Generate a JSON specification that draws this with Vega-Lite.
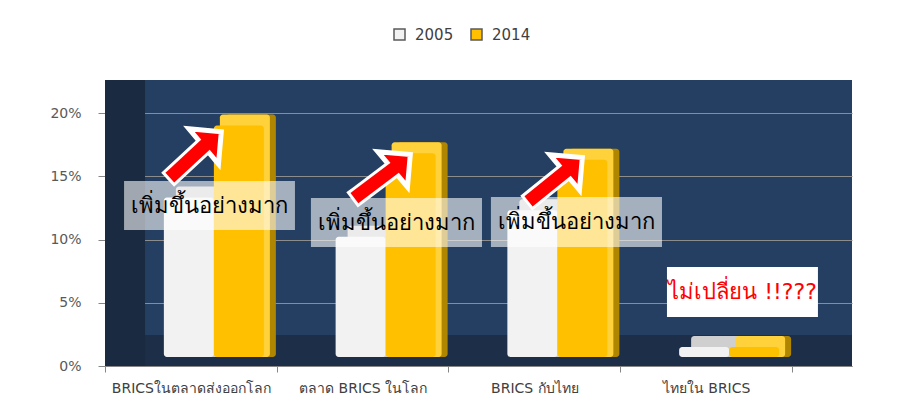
{
  "$schema": "https://vega.github.io/schema/vega-lite/v6.json",
  "width": 747,
  "height": 286,
  "autosize": {"type": "none"},
  "padding": {"left": 105, "top": 80, "right": 50, "bottom": 49},
  "background": "#FFFFFF",
  "config": {
    "font": "DejaVu Sans",
    "view": {"fill": "#243F62", "stroke": null},
    "axis": {"labelFont": "DejaVu Sans"}
  },
  "datasets": {
    "bars": [
      {"cat": "BRICSในตลาดส่งออกโลก", "year": "2005", "share": 0.126},
      {"cat": "BRICSในตลาดส่งออกโลก", "year": "2014", "share": 0.183},
      {"cat": "ตลาด BRICS ในโลก", "year": "2005", "share": 0.095},
      {"cat": "ตลาด BRICS ในโลก", "year": "2014", "share": 0.161},
      {"cat": "BRICS กับไทย", "year": "2005", "share": 0.116},
      {"cat": "BRICS กับไทย", "year": "2014", "share": 0.156},
      {"cat": "ไทยใน BRICS", "year": "2005", "share": 0.008},
      {"cat": "ไทยใน BRICS", "year": "2014", "share": 0.008}
    ],
    "gainNotes": [
      {"label": "เพิ่มขึ้นอย่างมาก", "x1": 0.111, "x2": 1.106, "top": 0.1462, "bottom": 0.1075, "xc": 0.608, "yc": 0.1264},
      {"label": "เพิ่มขึ้นอย่างมาก", "x1": 1.199, "x2": 2.195, "top": 0.1328, "bottom": 0.0941, "xc": 1.697, "yc": 0.1134},
      {"label": "เพิ่มขึ้นอย่างมาก", "x1": 2.247, "x2": 3.243, "top": 0.1336, "bottom": 0.0941, "xc": 2.745, "yc": 0.1138}
    ],
    "flatNote": [
      {"label": "ไม่เปลี่ยน !!???", "x1": 3.272, "x2": 4.151, "top": 0.0783, "bottom": 0.0387, "xc": 3.712, "yc": 0.0585}
    ],
    "arrows": [
      {"x0": 0.4052, "y0": 0.1524, "x1": 0.5764, "y1": 0.1739, "hx": 0.6259, "hy": 0.1794},
      {"x0": 1.4824, "y0": 0.1358, "x1": 1.6769, "y1": 0.1557, "hx": 1.7263, "hy": 0.1613},
      {"x0": 2.4955, "y0": 0.1334, "x1": 2.6783, "y1": 0.1534, "hx": 2.7278, "hy": 0.1589}
    ]
  },
  "resolve": {"scale": {"x": "independent"}, "axis": {"x": "independent"}},
  "layer": [
    {
      "data": {"values": [{}]},
      "layer": [
        {
          "mark": {"type": "rect", "color": "#1D2E48"},
          "encoding": {
            "x": {"datum": 0, "type": "quantitative", "scale": {"domain": [0, 4.3493], "nice": false, "zero": false}, "axis": null},
            "x2": {"datum": 4.3493},
            "y": {"datum": 0, "type": "quantitative", "scale": {"domain": [0, 0.2261], "nice": false},
              "axis": {"title": null, "values": [0, 0.05, 0.1, 0.15, 0.2], "format": ".0%", "tickSize": 7, "labelPadding": 17, "labelFontSize": 14, "labelColor": "#595959", "domainColor": "#868686", "tickColor": "#868686", "grid": true, "gridColor": "#8C8C8C", "gridWidth": 1}},
            "y2": {"datum": 0.0245}
          }
        },
        {
          "mark": {"type": "rect", "color": "#1A2A40"},
          "encoding": {
            "x": {"datum": 0, "type": "quantitative", "scale": {"domain": [0, 4.3493], "nice": false, "zero": false}, "axis": null},
            "x2": {"datum": 0.233},
            "y": {"datum": 0, "type": "quantitative", "scale": {"domain": [0, 0.2261], "nice": false},
              "axis": {"title": null, "values": [0, 0.05, 0.1, 0.15, 0.2], "format": ".0%", "tickSize": 7, "labelPadding": 17, "labelFontSize": 14, "labelColor": "#595959", "domainColor": "#868686", "tickColor": "#868686", "grid": true, "gridColor": "#8C8C8C", "gridWidth": 1}},
            "y2": {"datum": 0.2261}
          }
        }
      ]
    },
    {
      "data": {"name": "bars"},
      "encoding": {
        "x": {
          "field": "cat", "type": "nominal", "sort": null,
          "scale": {"paddingInner": 0, "paddingOuter": 0.1747, "align": 0},
          "axis": {"title": null, "labelAngle": 0, "tickBand": "extent", "grid": false, "domainColor": "#868686", "tickColor": "#868686", "tickSize": 6, "labelFontSize": 14, "labelColor": "#404040", "labelPadding": 9}
        },
        "y": {
          "field": "share", "type": "quantitative", "stack": null,
          "scale": {"domain": [0, 0.2261], "nice": false},
          "axis": {"title": null, "values": [0, 0.05, 0.1, 0.15, 0.2], "format": ".0%", "tickSize": 7, "labelPadding": 17, "labelFontSize": 14, "labelColor": "#595959", "domainColor": "#868686", "tickColor": "#868686", "grid": true, "gridColor": "#8C8C8C", "gridWidth": 1}
        },
        "y2": {"datum": 0}
      },
      "layer": [
        {
          "transform": [{"filter": "datum.year === '2005'"}],
          "mark": {"type": "bar", "width": 50, "color": "#CFCFCF", "xOffset": 10, "yOffset": -20, "y2Offset": -9, "cornerRadius": 3}
        },
        {
          "transform": [{"filter": "datum.year === '2005'"}],
          "mark": {"type": "bar", "width": 50, "xOffset": -2, "yOffset": -9, "y2Offset": -9, "cornerRadius": 3},
          "encoding": {
            "color": {"field": "year", "type": "nominal", "scale": {"domain": ["2005", "2014"], "range": ["#F2F2F2", "#FFC000"]},
              "legend": {"orient": "none", "legendX": 287, "legendY": -53, "direction": "horizontal", "title": null, "symbolType": "square", "symbolSize": 121, "labelFontSize": 15, "labelColor": "#404040", "symbolStrokeColor": "#595959", "symbolStrokeWidth": 1.5, "columnPadding": 14, "labelOffset": 8}}
          }
        },
        {
          "transform": [{"filter": "datum.year === '2014'"}],
          "mark": {"type": "bar", "width": 50, "color": "#B08500", "xOffset": 60, "yOffset": -20, "y2Offset": -9, "cornerRadius": 3}
        },
        {
          "transform": [{"filter": "datum.year === '2014'"}],
          "mark": {"type": "bar", "width": 50, "color": "#FFD13A", "xOffset": 54, "yOffset": -20, "y2Offset": -9, "cornerRadius": 3},
          "encoding": {"y2": {"field": "share"}}
        },
        {
          "transform": [{"filter": "datum.year === '2014'"}],
          "mark": {"type": "bar", "width": 50, "xOffset": 48, "yOffset": -9, "y2Offset": -9, "cornerRadius": 3},
          "encoding": {
            "color": {"field": "year", "type": "nominal", "scale": {"domain": ["2005", "2014"], "range": ["#F2F2F2", "#FFC000"]}}
          }
        }
      ]
    },
    {
      "layer": [
        {
          "data": {"name": "gainNotes"},
          "mark": {"type": "rect", "fill": "#FFFFFF", "fillOpacity": 0.59},
          "encoding": {
            "x": {"field": "x1", "type": "quantitative", "scale": {"domain": [0, 4.3493], "nice": false, "zero": false}, "axis": null},
            "x2": {"field": "x2"},
            "y": {"field": "top", "type": "quantitative", "scale": {"domain": [0, 0.2261], "nice": false},
              "axis": {"title": null, "values": [0, 0.05, 0.1, 0.15, 0.2], "format": ".0%", "tickSize": 7, "labelPadding": 17, "labelFontSize": 14, "labelColor": "#595959", "domainColor": "#868686", "tickColor": "#868686", "grid": true, "gridColor": "#8C8C8C", "gridWidth": 1}},
            "y2": {"field": "bottom"}
          }
        },
        {
          "data": {"name": "gainNotes"},
          "mark": {"type": "text", "fontSize": 22, "color": "#000000", "baseline": "middle", "align": "center"},
          "encoding": {
            "x": {"field": "xc", "type": "quantitative", "scale": {"domain": [0, 4.3493], "nice": false, "zero": false}, "axis": null},
            "y": {"field": "yc", "type": "quantitative", "scale": {"domain": [0, 0.2261], "nice": false},
              "axis": {"title": null, "values": [0, 0.05, 0.1, 0.15, 0.2], "format": ".0%", "tickSize": 7, "labelPadding": 17, "labelFontSize": 14, "labelColor": "#595959", "domainColor": "#868686", "tickColor": "#868686", "grid": true, "gridColor": "#8C8C8C", "gridWidth": 1}},
            "text": {"field": "label"}
          }
        },
        {
          "data": {"name": "arrows"},
          "mark": {"type": "rule", "color": "#FFFFFF", "strokeWidth": 19, "strokeCap": "square"},
          "encoding": {
            "x": {"field": "x0", "type": "quantitative", "scale": {"domain": [0, 4.3493], "nice": false, "zero": false}, "axis": null},
            "x2": {"field": "x1"},
            "y": {"field": "y0", "type": "quantitative", "scale": {"domain": [0, 0.2261], "nice": false},
              "axis": {"title": null, "values": [0, 0.05, 0.1, 0.15, 0.2], "format": ".0%", "tickSize": 7, "labelPadding": 17, "labelFontSize": 14, "labelColor": "#595959", "domainColor": "#868686", "tickColor": "#868686", "grid": true, "gridColor": "#8C8C8C", "gridWidth": 1}},
            "y2": {"field": "y1"}
          }
        },
        {
          "data": {"name": "arrows"},
          "mark": {"type": "point", "shape": "M-1,0.5L0,-0.5L1,0.5Z", "size": 2116, "angle": 50, "filled": true, "fill": "#FF0000", "stroke": "#FFFFFF", "strokeWidth": 5, "opacity": 1, "strokeJoin": "miter"},
          "encoding": {
            "x": {"field": "hx", "type": "quantitative", "scale": {"domain": [0, 4.3493], "nice": false, "zero": false}, "axis": null},
            "y": {"field": "hy", "type": "quantitative", "scale": {"domain": [0, 0.2261], "nice": false},
              "axis": {"title": null, "values": [0, 0.05, 0.1, 0.15, 0.2], "format": ".0%", "tickSize": 7, "labelPadding": 17, "labelFontSize": 14, "labelColor": "#595959", "domainColor": "#868686", "tickColor": "#868686", "grid": true, "gridColor": "#8C8C8C", "gridWidth": 1}}
          }
        },
        {
          "data": {"name": "arrows"},
          "mark": {"type": "rule", "color": "#FF0000", "strokeWidth": 13, "strokeCap": "square"},
          "encoding": {
            "x": {"field": "x0", "type": "quantitative", "scale": {"domain": [0, 4.3493], "nice": false, "zero": false}, "axis": null},
            "x2": {"field": "x1"},
            "y": {"field": "y0", "type": "quantitative", "scale": {"domain": [0, 0.2261], "nice": false},
              "axis": {"title": null, "values": [0, 0.05, 0.1, 0.15, 0.2], "format": ".0%", "tickSize": 7, "labelPadding": 17, "labelFontSize": 14, "labelColor": "#595959", "domainColor": "#868686", "tickColor": "#868686", "grid": true, "gridColor": "#8C8C8C", "gridWidth": 1}},
            "y2": {"field": "y1"}
          }
        },
        {
          "data": {"name": "flatNote"},
          "mark": {"type": "rect", "fill": "#FFFFFF", "fillOpacity": 1},
          "encoding": {
            "x": {"field": "x1", "type": "quantitative", "scale": {"domain": [0, 4.3493], "nice": false, "zero": false}, "axis": null},
            "x2": {"field": "x2"},
            "y": {"field": "top", "type": "quantitative", "scale": {"domain": [0, 0.2261], "nice": false},
              "axis": {"title": null, "values": [0, 0.05, 0.1, 0.15, 0.2], "format": ".0%", "tickSize": 7, "labelPadding": 17, "labelFontSize": 14, "labelColor": "#595959", "domainColor": "#868686", "tickColor": "#868686", "grid": true, "gridColor": "#8C8C8C", "gridWidth": 1}},
            "y2": {"field": "bottom"}
          }
        },
        {
          "data": {"name": "flatNote"},
          "mark": {"type": "text", "fontSize": 22, "color": "#FF0000", "baseline": "middle", "align": "center"},
          "encoding": {
            "x": {"field": "xc", "type": "quantitative", "scale": {"domain": [0, 4.3493], "nice": false, "zero": false}, "axis": null},
            "y": {"field": "yc", "type": "quantitative", "scale": {"domain": [0, 0.2261], "nice": false},
              "axis": {"title": null, "values": [0, 0.05, 0.1, 0.15, 0.2], "format": ".0%", "tickSize": 7, "labelPadding": 17, "labelFontSize": 14, "labelColor": "#595959", "domainColor": "#868686", "tickColor": "#868686", "grid": true, "gridColor": "#8C8C8C", "gridWidth": 1}},
            "text": {"field": "label"}
          }
        }
      ]
    }
  ]
}
